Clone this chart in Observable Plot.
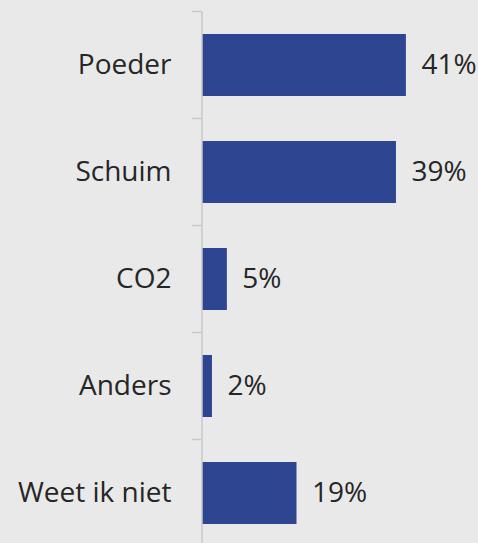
<!DOCTYPE html>
<html>
<head>
<meta charset="utf-8">
<script src="https://cdn.jsdelivr.net/npm/d3@7"></script>
<script src="https://cdn.jsdelivr.net/npm/@observablehq/plot@0.6"></script>
<style>
  html, body { margin: 0; padding: 0; background: #e9e9e9; }
  #chart { width: 478px; height: 543px; overflow: hidden; }
</style>
</head>
<body>
<div id="chart"></div>
<script>
const categories = ["Poeder", "Schuim", "CO2", "Anders", "Weet ik niet"];
const values = [41, 39, 5, 2, 19];
const valueLabels = ["41%", "39%", "5%", "2%", "19%"];

const data = categories.map((c, i) => ({cat: c, value: values[i], label: valueLabels[i]}));

const plot = Plot.plot({
  width: 478,
  height: 543,
  marginLeft: 202,
  marginRight: 0,
  marginTop: 0,
  marginBottom: 0,
  style: {background: "#e9e9e9", fontFamily: "'Open Sans', sans-serif", color: "#262626", overflow: "visible"},
  x: {domain: [0, 55.5], axis: null},
  y: {domain: categories, range: [12, 547], paddingInner: 0.42, paddingOuter: 0.21, label: null},
  marks: [
    Plot.barX(data, {x: "value", y: "cat", fill: "#2e4592"}),
    Plot.text(data, {x: "value", y: "cat", text: "label", dx: 15, textAnchor: "start", fontSize: 28, fill: "#262626"}),
    Plot.axisY({tickSize: 0, tickPadding: 31, fontSize: 28, fill: "#262626", label: null})
  ]
});

// axis line and boundary ticks derived from the y band scale
const ys = plot.scale("y");
const x0 = plot.scale("x").apply(0);
const half = (ys.step - ys.bandwidth) / 2;
const bounds = categories.map(c => ys.apply(c) - half);
bounds.push(ys.apply(categories[categories.length - 1]) + ys.bandwidth + half);
const svg = d3.select(plot);
const g = svg.append("g").attr("stroke", "#c8c8c8").attr("stroke-width", 1.5);
g.append("line").attr("x1", x0).attr("x2", x0).attr("y1", bounds[0]).attr("y2", bounds[bounds.length - 1]);
bounds.forEach(b => g.append("line").attr("x1", x0 - 10).attr("x2", x0).attr("y1", b).attr("y2", b));

document.getElementById("chart").appendChild(plot);
</script>
</body>
</html>
